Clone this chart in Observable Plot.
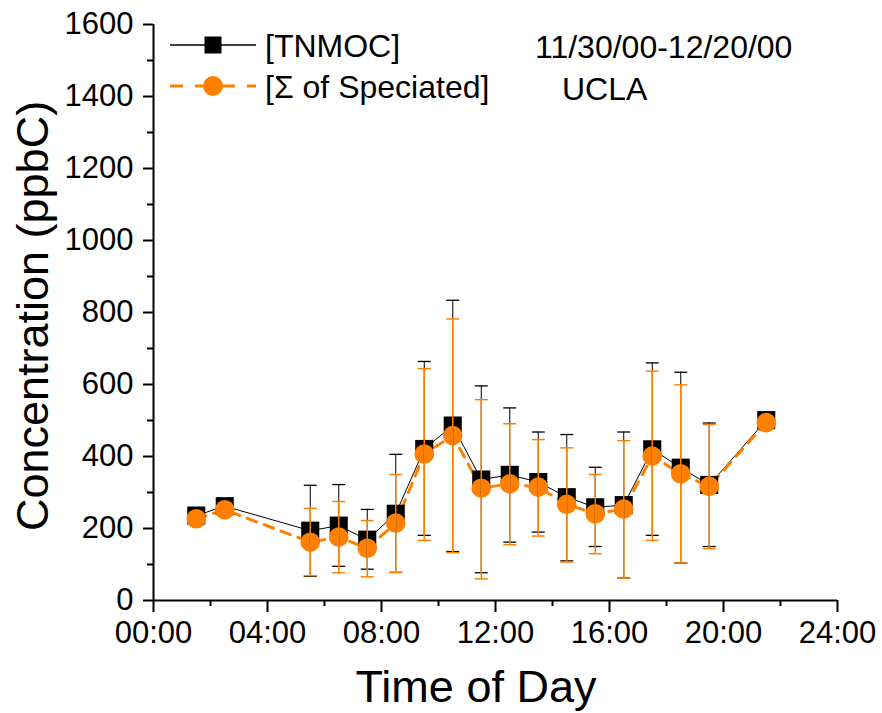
<!DOCTYPE html>
<html><head><meta charset="utf-8">
<script src="https://cdn.jsdelivr.net/npm/d3@7"></script>
<script src="https://cdn.jsdelivr.net/npm/@observablehq/plot@0.6"></script>
<style>
body{margin:0;background:#fff;}
#chart{position:relative;width:882px;height:713px;}
</style></head><body><div id="chart"></div>
<script>
// ---- data (hour of day, ppbC) ----
const hours   = [1.5, 2.5, 5.5, 6.5, 7.5, 8.5, 9.5, 10.5, 11.5, 12.5, 13.5, 14.5, 15.5, 16.5, 17.5, 18.5, 19.5, 21.5];
const tnmoc   = [236, 262, 194, 208, 169, 241, 421, 486, 336, 349, 329, 287, 259, 265, 420, 369, 321, 501];
const tnmocHi = [null, null, 320, 322, 253, 406, 664, 834, 596, 535, 468, 461, 370, 468, 660, 634, 493, null];
const tnmocLo = [null, null, 67, 95, 87, 78, 181, 136, 77, 162, 190, 110, 150, 62, 181, 104, 150, null];
const spec    = [227, 252, 162, 176, 145, 215, 407, 458, 312, 324, 315, 267, 241, 254, 401, 352, 317, 494];
const specHi  = [null, null, 256, 275, 222, 350, 644, 782, 558, 491, 447, 424, 350, 444, 637, 599, 489, null];
const specLo  = [null, null, 69, 77, 66, 78, 167, 133, 60, 155, 179, 107, 130, 62, 167, 104, 144, null];

const xMajorTicks = [0, 4, 8, 12, 16, 20, 24];
const xMinorTicks = [2, 6, 10, 14, 18, 22];
const yMajorTicks = [0, 200, 400, 600, 800, 1000, 1200, 1400, 1600];
const yMinorTicks = [100, 300, 500, 700, 900, 1100, 1300, 1500];

const seriesNames = ["[TNMOC]", "[\u03A3 of Speciated]"];
const xTitle = "Time of Day";
const yTitle = "Concentration (ppbC)";
const annotations = ["11/30/00-12/20/00", "UCLA"];

const orange = "#ff8000";
const font = "'Liberation Sans', Arial, sans-serif";

const rows = hours.map((h, i) => ({h, t: tnmoc[i], tHi: tnmocHi[i], tLo: tnmocLo[i], s: spec[i], sHi: specHi[i], sLo: specLo[i]}));
const bars = rows.filter(d => d.tHi != null);

const capSymbol = {draw(ctx, size) { const w = Math.sqrt(size / Math.PI); ctx.moveTo(-w, 0); ctx.lineTo(w, 0); }};
const fmt = h => String(h).padStart(2, "0") + ":00";

const plot = Plot.plot({
  width: 882, height: 713,
  marginLeft: 153, marginRight: 45, marginTop: 24, marginBottom: 113,
  style: {fontFamily: font, background: "#fff", color: "#000"},
  x: {domain: [0, 24]},
  y: {domain: [0, 1600]},
  marks: [
    Plot.axisX({ticks: xMajorTicks, tickSize: 12, tickPadding: 8, tickFormat: fmt, fontSize: 31, strokeWidth: 2, label: null}),
    Plot.axisX({ticks: xMinorTicks, tickSize: 6, tickFormat: () => "", strokeWidth: 2, label: null}),
    Plot.axisY({ticks: yMajorTicks, tickSize: 10, tickPadding: 10, tickFormat: d => String(d), fontSize: 31, strokeWidth: 2, label: null}),
    Plot.axisY({ticks: yMinorTicks, tickSize: 6, tickFormat: () => "", strokeWidth: 2, label: null}),
    Plot.ruleY([0], {stroke: "black", strokeWidth: 2}),
    Plot.ruleX([0], {stroke: "black", strokeWidth: 2}),
    Plot.line(rows, {x: "h", y: "t", stroke: "black", strokeWidth: 1}),
    Plot.line(rows, {x: "h", y: "s", stroke: orange, strokeWidth: 3, strokeDasharray: "10,8"}),
    Plot.dot(rows, {x: "h", y: "t", symbol: "square", r: 10.2, fill: "black"}),
    Plot.dot(rows, {x: "h", y: "s", symbol: "circle", r: 9.8, fill: orange}),
    Plot.ruleX(bars, {x: "h", y1: "tLo", y2: "tHi", stroke: "black", strokeWidth: 1}),
    Plot.dot(bars, {x: "h", y: "tHi", symbol: capSymbol, r: 6.5, stroke: "black", fill: "none", strokeWidth: 1.3}),
    Plot.dot(bars, {x: "h", y: "tLo", symbol: capSymbol, r: 6.5, stroke: "black", fill: "none", strokeWidth: 1.3}),
    Plot.ruleX(bars, {x: "h", y1: "sLo", y2: "sHi", stroke: orange, strokeWidth: 1.5}),
    Plot.dot(bars, {x: "h", y: "sHi", symbol: capSymbol, r: 6.5, stroke: orange, fill: "none", strokeWidth: 1.5}),
    Plot.dot(bars, {x: "h", y: "sLo", symbol: capSymbol, r: 6.5, stroke: orange, fill: "none", strokeWidth: 1.5})
  ]
});

document.getElementById("chart").appendChild(plot);

// ---- titles, legend, annotations ----
const svg = d3.select(plot);
const g = svg.append("g").attr("font-family", font).attr("fill", "black").attr("text-anchor", "start");

g.append("text").attr("x", 476).attr("y", 702).attr("text-anchor", "middle")
  .attr("font-size", 45).text(xTitle);
g.append("text").attr("transform", "translate(48,316) rotate(-90)").attr("text-anchor", "middle")
  .attr("font-size", 45).text(yTitle);

// legend row 1
g.append("line").attr("x1", 170).attr("x2", 256).attr("y1", 45).attr("y2", 45)
  .attr("stroke", "black").attr("stroke-width", 1.3);
g.append("rect").attr("x", 204.5).attr("y", 36.5).attr("width", 17).attr("height", 17).attr("fill", "black");
g.append("text").attr("x", 265).attr("y", 57).attr("font-size", 32).attr("text-anchor", "start").text(seriesNames[0]);

// legend row 2
[[170, 183], [195, 235], [247, 256]].forEach(([a, b]) =>
  g.append("line").attr("x1", a).attr("x2", b).attr("y1", 86).attr("y2", 86)
    .attr("stroke", orange).attr("stroke-width", 3));
g.append("circle").attr("cx", 213).attr("cy", 86).attr("r", 10).attr("fill", orange);
g.append("text").attr("x", 265).attr("y", 98).attr("font-size", 32).attr("text-anchor", "start").text(seriesNames[1]);

// annotation
g.append("text").attr("x", 535).attr("y", 58).attr("font-size", 32).attr("text-anchor", "start").text(annotations[0]);
g.append("text").attr("x", 562).attr("y", 100).attr("font-size", 32).attr("text-anchor", "start").text(annotations[1]);
</script>
</body></html>
